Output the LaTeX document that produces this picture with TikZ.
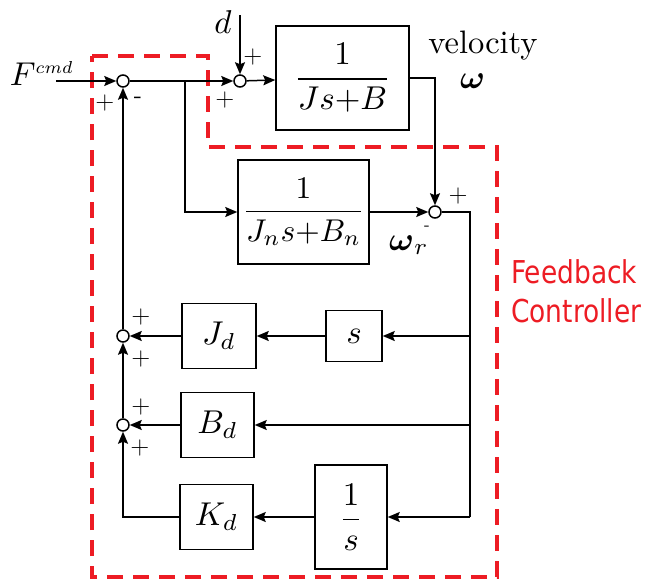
\documentclass[tikz,border=0pt]{standalone}
\usepackage{amsmath}
\usepackage{graphicx}
\usepackage{fontspec}
\usetikzlibrary{arrows.meta}
\newfontfamily\fbfont[FakeStretch=0.84]{DejaVu Sans}
\definecolor{fbred}{RGB}{237,28,36}
\newcommand{\mth}[1]{\scalebox{3.3}{$#1$}}
\newcommand{\signsize}{\sffamily\fontsize{26}{30}\selectfont}
\begin{document}
\begin{tikzpicture}[
  x=1pt, y=1pt,
  blk/.style={draw, line width=1.5pt, inner sep=0pt},
  gainblk/.style={blk, minimum width=73pt, minimum height=65pt},
  fracblk/.style={blk, minimum height=104pt},
  sumnode/.style={circle, draw, line width=1.5pt, minimum size=12pt, inner sep=0pt},
  signlbl/.style={font=\signsize, inner sep=0pt},
  wire/.style={line width=1.5pt},
  arr/.style={wire, -{Stealth[length=12pt,width=10pt,inset=2pt]}},
  ctrlbox/.style={draw=fbred, line width=4.5pt, dash pattern=on 16pt off 10pt, line join=miter}
]
\useasboundingbox (0,0) rectangle (648,-581);

\draw[ctrlbox] (92,-56) -- (208,-56) -- (208,-147) -- (497,-147) -- (497,-577) -- (92,-577) -- cycle;

\node[sumnode] (sum1) at (123,-81) {};
\node[sumnode] (sum2) at (240,-81) {};
\node[sumnode] (sum3) at (435,-212) {};
\node[sumnode] (sum4) at (123,-336) {};
\node[sumnode] (sum5) at (123,-425) {};

\node[fracblk, minimum width=133pt] (plant) at (342.5,-78) {\mth{\dfrac{1}{Js{+}B}}};
\node[fracblk, minimum width=131pt] (model) at (303.5,-212) {\scalebox{3.15}{$\dfrac{1}{J_n s{+}B_n}$}};
\node[blk, minimum width=56pt, minimum height=51pt] (sblk) at (354,-336) {\mth{s}};
\node[gainblk, minimum width=74pt] (jd) at (219,-336) {\mth{J_d}};
\node[gainblk] (bd) at (217.5,-425) {\mth{B_d}};
\node[gainblk] (kd) at (216.5,-517) {\mth{K_d}};
\node[fracblk, minimum width=72pt] (integ) at (351,-517) {\mth{\dfrac{1}{s}}};

\coordinate (fin) at (56,-81);
\coordinate (dtop) at (240,-15);
\coordinate (br) at (185,-81);
\coordinate (bus) at (470,-212);
\coordinate (tap1) at (470,-336);
\coordinate (tap2) at (470,-425);
\coordinate (tap3) at (470,-517);

\node[anchor=base] (fcmd) at (42,-85) {\mth{F^{\scalebox{0.75}{$\scriptstyle cmd$}}}};
\node[anchor=base] (dlbl) at (223,-33) {\mth{d}};
\node[anchor=base] (vel) at (483,-53) {\scalebox{3.25}{velocity}};
\node[anchor=base] (omega) at (472.5,-88) {\mth{\boldsymbol{\omega}}};
\node[anchor=base] (omegar) at (409,-250) {\mth{\boldsymbol{\omega}_r}};

\node[signlbl] (p1) at (105,-103) {+};
\node[signlbl] (m1) at (138,-100) {-};
\node[signlbl] (p2a) at (253,-57) {+};
\node[signlbl] (p2b) at (225,-100) {+};
\node[signlbl] (p3) at (458,-196) {+};
\node[signlbl, font=\sffamily\fontsize{18}{20}\selectfont] (m3) at (427,-228) {-};
\node[signlbl] (p4a) at (141,-317) {+};
\node[signlbl] (p4b) at (141,-359) {+};
\node[signlbl] (p5a) at (141,-407) {+};
\node[signlbl] (p5b) at (140,-448) {+};

\node[font=\fbfont\fontsize{31.5}{39}\selectfont, text=fbred, anchor=base west, inner sep=0pt] (fb1) at (511,-283) {Feedback};
\node[font=\fbfont\fontsize{31.5}{39}\selectfont, text=fbred, anchor=base west, inner sep=0pt] (fb2) at (511,-322) {Controller};

\draw[arr] (fin) -- (sum1);
\draw[arr] (sum1) -- (sum2);
\draw[arr] (br) |- (model);
\draw[arr] (dtop) -- (sum2);
\draw[arr] (sum2) -- (plant);
\draw[arr] (plant) -| (sum3);
\draw[arr] (model) -- (sum3);
\draw[wire] (sum3) -- (bus) -- (tap3);
\draw[arr] (tap1) -- (sblk);
\draw[arr] (tap2) -- (bd);
\draw[arr] (tap3) -- (integ);
\draw[arr] (sblk) -- (jd);
\draw[arr] (jd) -- (sum4);
\draw[arr] (bd) -- (sum5);
\draw[arr] (integ) -- (kd);
\draw[arr] (kd) -| (sum5);
\draw[arr] (sum5) -- (sum4);
\draw[arr] (sum4) -- (sum1);
\end{tikzpicture}
\end{document}
